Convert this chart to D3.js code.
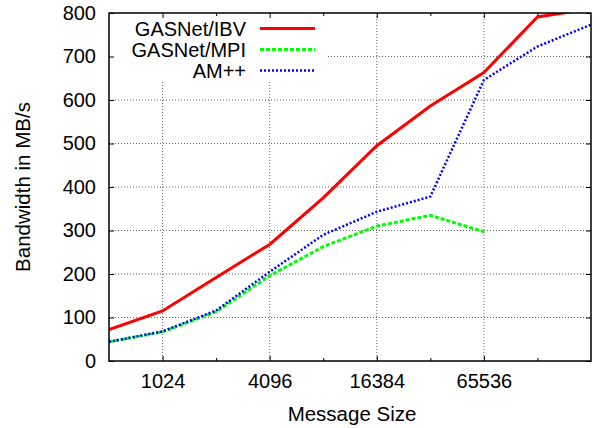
<!DOCTYPE html>
<meta charset="utf-8">

<!-- Load d3.js -->
<script src="https://d3js.org/d3.v7.min.js" charset="utf-8"></script>

<style>
  body { margin: 0; background: #fff; }
  text { font-family: "Liberation Sans", Arial, sans-serif; fill: #000; }
</style>

<!-- Create a div where the graph will take place -->
<div id="my_dataviz"></div>

<script>

// data (message size in bytes, bandwidth in MB/s)
var sizes = [512, 1024, 2048, 4096, 8192, 16384, 32768, 65536, 131072, 262144];
var ibv   = [72, 115, 192, 268, 375, 495, 586, 663, 791, 810];
var mpi   = [44, 67, 113, 196, 263, 310, 335, 297];
var ampp  = [44, 68, 116, 205, 290, 343, 378, 646, 723, 773];

var xTickValues = [1024, 4096, 16384, 65536];
var xMinorValues = [2048, 8192, 32768, 131072];
var yTickValues = [0, 100, 200, 300, 400, 500, 600, 700, 800];

var seriesNames = ["GASNet/IBV", "GASNet/MPI", "AM++"];

// set the dimensions and margins of the graph
var margin = {top: 13, right: 9, bottom: 67, left: 109},
  width = 600 - margin.left - margin.right,
  height = 428 - margin.top - margin.bottom;

var svg = d3.select("#my_dataviz")
  .append("svg")
    .attr("width", 600)
    .attr("height", 428)
  .append("g")
    .attr("transform", "translate(" + margin.left + "," + margin.top + ")");

var x = d3.scaleLog().base(2).domain([512, 262144]).range([0, width]);
var y = d3.scaleLinear().domain([0, 800]).range([height, 0]);

// grid lines (dotted)
svg.selectAll(".hgrid")
  .data(yTickValues.slice(1, -1))
  .enter()
  .append("line")
    .attr("x1", 0)
    .attr("x2", width)
    .attr("y1", function(d) { return y(d); })
    .attr("y2", function(d) { return y(d); })
    .style("stroke", "#666")
    .style("stroke-width", 1)
    .style("stroke-dasharray", "1,2");

svg.selectAll(".vgrid")
  .data(xTickValues)
  .enter()
  .append("line")
    .attr("x1", function(d) { return x(d); })
    .attr("x2", function(d) { return x(d); })
    .attr("y1", 0)
    .attr("y2", height)
    .style("stroke", "#666")
    .style("stroke-width", 1)
    .style("stroke-dasharray", "1,2");

// white box behind the key
svg.append("rect")
  .attr("x", 0)
  .attr("y", 0)
  .attr("width", 219)
  .attr("height", 69)
  .style("fill", "#fff");

// clip the lines to the plot area
svg.append("clipPath")
  .attr("id", "clip")
  .append("rect")
    .attr("width", width)
    .attr("height", height);

var styles = [
  {data: ibv,  color: "#ff0000", width: 3,   dash: null},
  {data: mpi,  color: "#00ff00", width: 3,   dash: "4,2"},
  {data: ampp, color: "#0000ff", width: 2.5, dash: "2,2"}
];

var line = d3.line()
  .x(function(d) { return x(d[0]); })
  .y(function(d) { return y(d[1]); });

styles.forEach(function(s) {
  var pts = s.data.map(function(v, i) { return [sizes[i], v]; });
  svg.append("path")
    .datum(pts)
    .attr("clip-path", "url(#clip)")
    .attr("d", line)
    .style("fill", "none")
    .style("stroke", s.color)
    .style("stroke-width", s.width)
    .style("stroke-dasharray", s.dash);
});

// axes, ticks pointing inward like gnuplot
var yAxis = svg.append("g")
  .call(d3.axisLeft(y).tickValues(yTickValues).tickSize(-5).tickPadding(13));
svg.append("g")
  .attr("transform", "translate(" + width + ",0)")
  .call(d3.axisRight(y).tickValues(yTickValues).tickSize(-5).tickFormat(""));

var xAxis = svg.append("g")
  .attr("transform", "translate(0," + height + ")")
  .call(d3.axisBottom(x).tickValues(xTickValues).tickSize(-5).tickPadding(13)
    .tickFormat(d3.format("d")));
svg.append("g")
  .attr("transform", "translate(0," + height + ")")
  .call(d3.axisBottom(x).tickValues(xMinorValues).tickSize(-3).tickFormat(""));
svg.append("g")
  .call(d3.axisTop(x).tickValues(xTickValues).tickSize(-5).tickFormat(""));
svg.append("g")
  .call(d3.axisTop(x).tickValues(xMinorValues).tickSize(-3).tickFormat(""));

svg.selectAll(".domain").remove();
svg.selectAll(".tick line").style("stroke", "#000").style("stroke-width", 1);
svg.selectAll(".tick text")
  .style("font-size", "20px")
  .style("font-family", "'Liberation Sans', Arial, sans-serif");

// frame
svg.append("rect")
  .attr("width", width)
  .attr("height", height)
  .style("fill", "none")
  .style("stroke", "#000")
  .style("stroke-width", 1.5);

// key
seriesNames.forEach(function(name, i) {
  var cy = 15.5 + i * 21;
  svg.append("text")
    .attr("x", 137)
    .attr("y", cy + 7)
    .style("text-anchor", "end")
    .style("font-size", "20px")
    .text(name);
  svg.append("line")
    .attr("x1", 151)
    .attr("x2", 206)
    .attr("y1", cy)
    .attr("y2", cy)
    .style("stroke", styles[i].color)
    .style("stroke-width", styles[i].width)
    .style("stroke-dasharray", styles[i].dash);
});

// axis titles
svg.append("text")
  .attr("transform", "translate(" + (width / 2 + 2) + "," + (height + 60) + ")")
  .style("text-anchor", "middle")
  .style("font-size", "20.5px")
  .text("Message Size");

svg.append("text")
  .attr("transform", "translate(" + (-79) + "," + (height / 2) + ") rotate(-90)")
  .style("text-anchor", "middle")
  .style("font-size", "20.5px")
  .text("Bandwidth in MB/s");

</script>
